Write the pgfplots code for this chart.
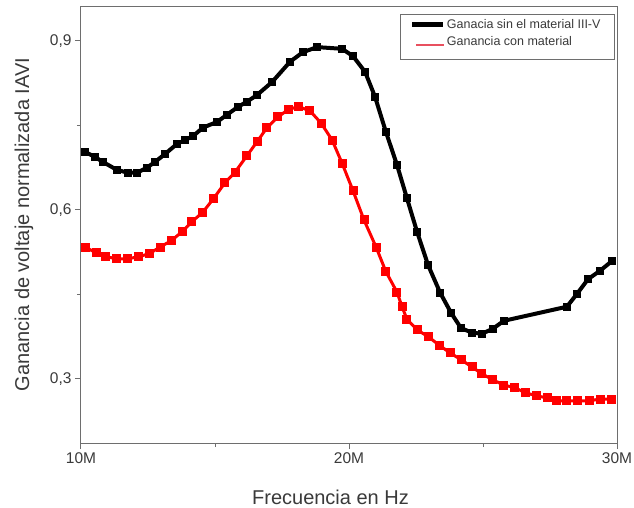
\documentclass[border=0pt]{standalone}
\usepackage{pgfplots}
\pgfplotsset{compat=1.18}
\usepackage{pgfplotstable}
\usepackage{fontspec}
\setmainfont{Liberation Sans}
\definecolor{axgray}{HTML}{6E6E6E}
\definecolor{txtgray}{HTML}{3A3A3A}
\definecolor{legred}{HTML}{E8505F}

\pgfplotstableread{
x y
10.15 0.703
10.52 0.694
10.82 0.685
11.34 0.671
11.75 0.666
12.09 0.666
12.46 0.675
12.76 0.685
13.13 0.699
13.58 0.717
13.88 0.724
14.18 0.731
14.55 0.746
15.07 0.756
15.45 0.769
15.86 0.783
16.19 0.792
16.57 0.804
17.13 0.827
17.80 0.863
18.28 0.880
18.81 0.889
19.74 0.886
20.15 0.873
20.60 0.845
20.97 0.801
21.38 0.738
21.79 0.680
22.16 0.621
22.54 0.561
22.95 0.502
23.40 0.453
23.81 0.417
24.18 0.390
24.59 0.382
24.96 0.380
25.37 0.389
25.78 0.403
28.13 0.428
28.51 0.451
28.92 0.477
29.37 0.492
29.81 0.509
}\sinmaterial

\pgfplotstableread{
x y
10.15 0.534
10.56 0.524
10.93 0.517
11.34 0.513
11.75 0.513
12.16 0.517
12.54 0.522
12.95 0.534
13.36 0.545
13.77 0.561
14.14 0.579
14.55 0.596
14.96 0.621
15.37 0.648
15.75 0.667
16.19 0.696
16.57 0.721
16.94 0.746
17.35 0.765
17.76 0.779
18.13 0.783
18.54 0.776
18.96 0.754
19.37 0.724
19.74 0.683
20.15 0.634
20.56 0.582
21.01 0.534
21.38 0.490
21.79 0.454
21.98 0.428
22.16 0.406
22.54 0.387
22.95 0.375
23.36 0.360
23.77 0.346
24.18 0.334
24.59 0.321
24.96 0.309
25.37 0.298
25.78 0.289
26.19 0.284
26.60 0.275
26.98 0.270
27.39 0.266
27.76 0.261
28.13 0.261
28.54 0.261
28.96 0.261
29.37 0.264
29.78 0.264
}\conmaterial

\begin{document}
\begin{tikzpicture}
\useasboundingbox (-81pt,-64pt) rectangle (553pt,443pt);
\begin{axis}[
  scale only axis,
  width=536pt, height=437pt,
  xmin=10, xmax=30, ymin=0.186, ymax=0.962,
  xtick={10,20,30}, xticklabels={10M,20M,30M},
  minor xtick={15,25},
  ytick={0.3,0.6,0.9},
  yticklabels={{0,3},{0,6},{0,9}},
  minor ytick={0.45,0.75},
  tick align=outside, tick pos=left,
  major tick length=6pt, minor tick length=4pt,
  axis line style={axgray, line width=1pt},
  every tick/.style={axgray, line width=1pt},
  tick label style={font=\fontsize{15.5}{17}\selectfont, text=txtgray},
  xlabel={Frecuencia en Hz},
  ylabel={Ganancia de voltaje normalizada IAVI},
  every axis x label/.style={at={(axis description cs:0.5,0)}, anchor=center, xshift=-18.5pt, yshift=-54pt, font=\fontsize{20}{23}\selectfont, text=txtgray},
  every axis y label/.style={at={(axis description cs:0,0.5)}, rotate=90, anchor=center, yshift=57pt, font=\fontsize{20}{23}\selectfont, text=txtgray},
  legend style={at={(1,1)}, anchor=north east, xshift=-2pt, yshift=-8pt,
    draw=axgray, line width=1pt, font=\fontsize{12.5}{14}\selectfont, text=txtgray,
    inner xsep=9pt, inner ysep=3pt, row sep=2pt, nodes={inner xsep=1pt}},
  legend cell align=left,
]
\addplot[black, line width=4pt, mark=square*, mark size=3.5pt, mark options={solid, line width=0pt},
  legend image code/.code={\draw[black, line width=5pt] (0pt,0pt) -- (31pt,0pt);}]
  table[x=x, y=y] {\sinmaterial};
\addlegendentry{Ganacia sin el material III-V\hspace*{4pt}}
\addplot[red, line width=3pt, mark=square*, mark size=4pt, mark options={solid, line width=0pt},
  legend image code/.code={\draw[draw=legred, line width=1.8pt] (4pt,-4pt) -- (32pt,-4pt);}]
  table[x=x, y=y] {\conmaterial};
\addlegendentry{Ganancia con material}
\addlegendimage{empty legend}
\addlegendentry{}
\end{axis}
\end{tikzpicture}
\end{document}
